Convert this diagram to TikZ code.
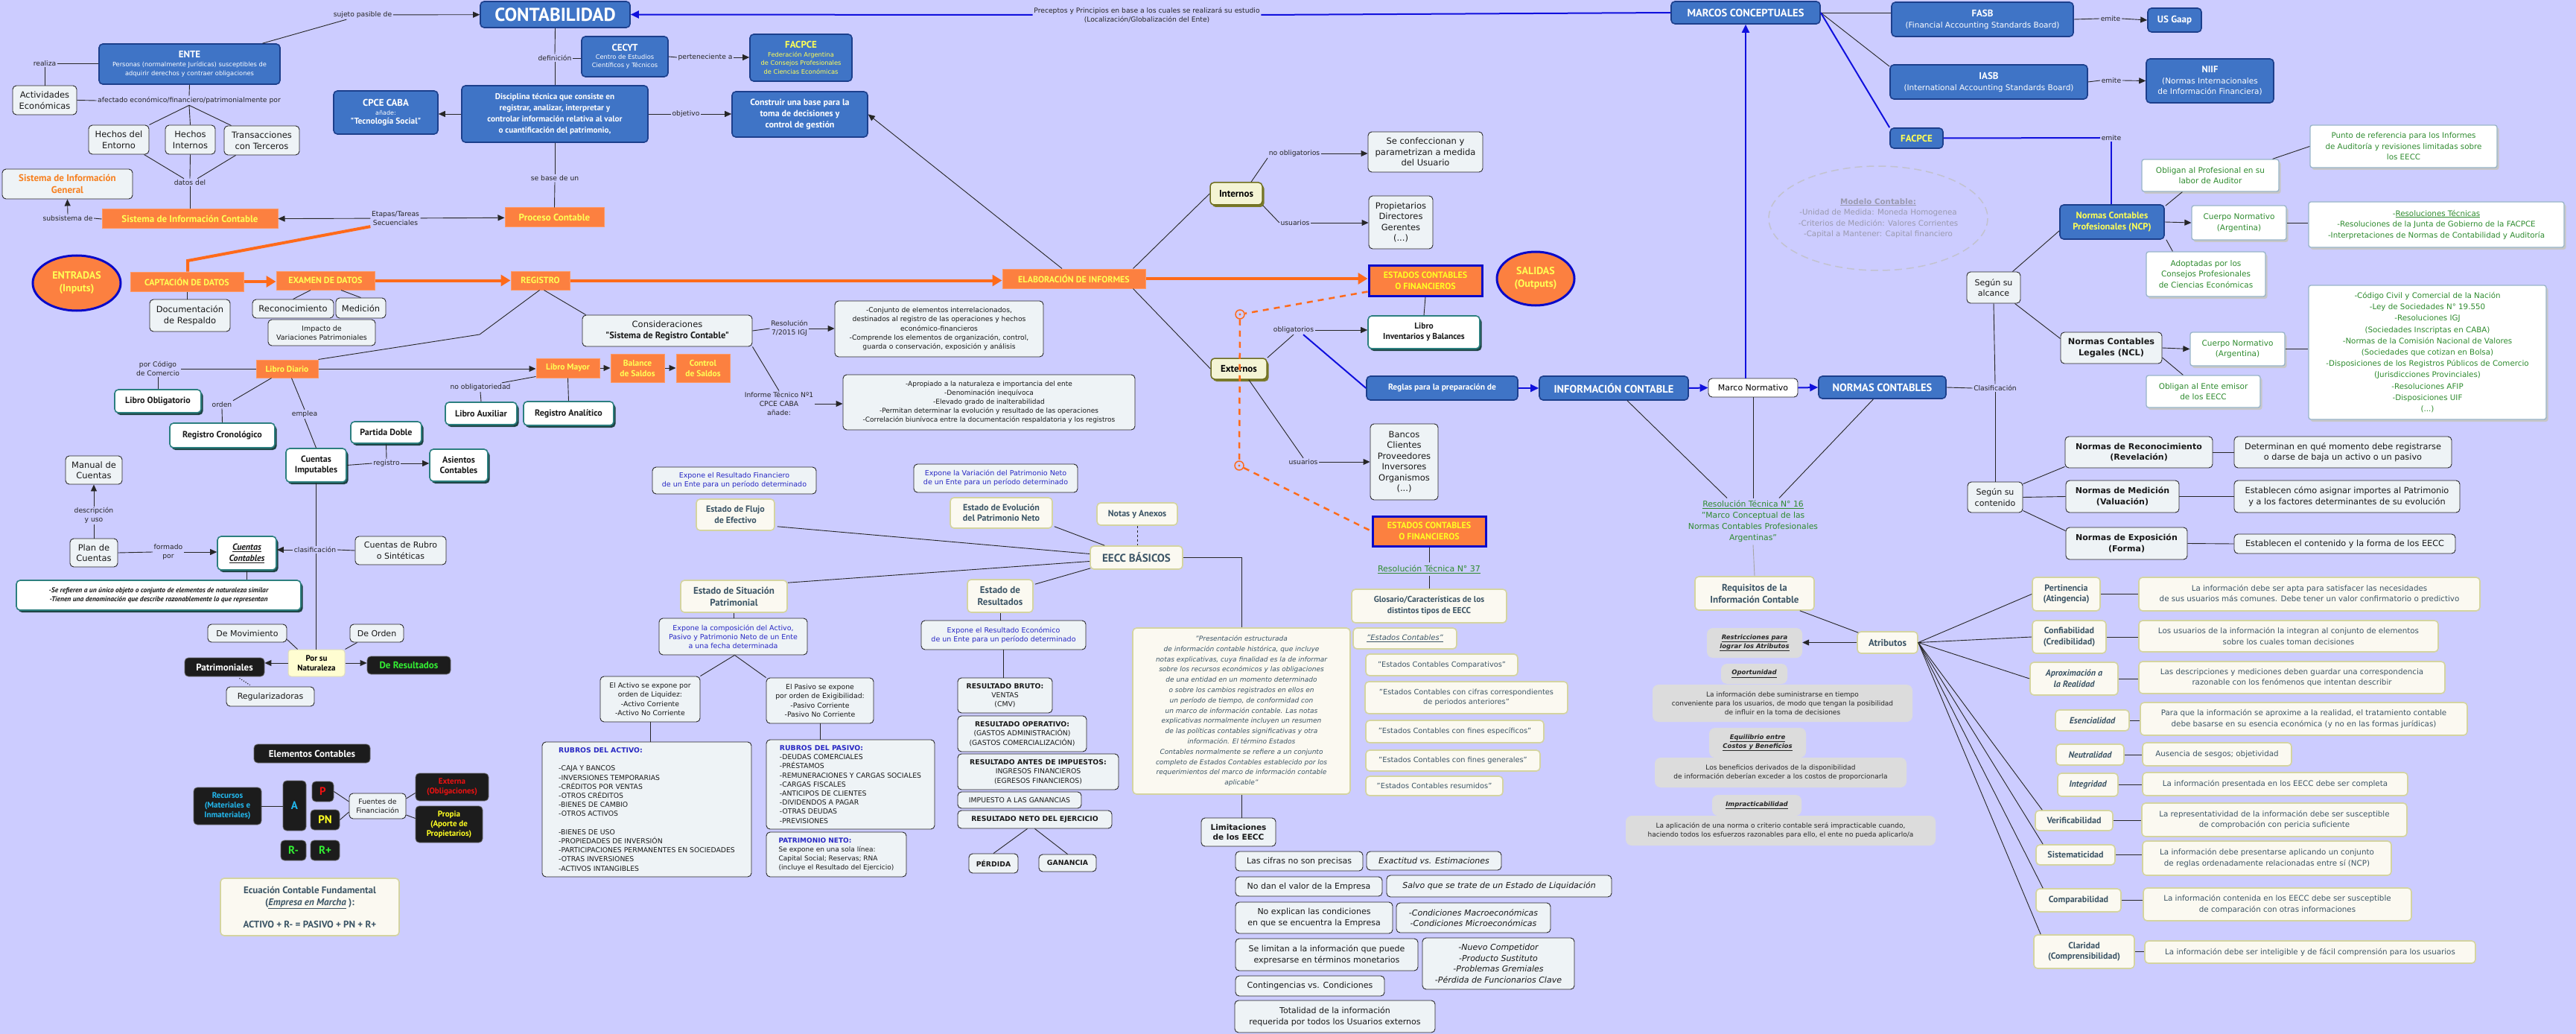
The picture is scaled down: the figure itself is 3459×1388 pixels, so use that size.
\documentclass[tikz,border=0pt]{standalone}
\usepackage{fontspec}
\setmainfont{DejaVu Sans}
\newfontfamily\ptf{PT Sans}
\usetikzlibrary{arrows.meta,calc,shadows,shapes.geometric}
\newcommand\pb{\ptf\bfseries}
\newcommand\fsz[2]{\fontsize{#1}{#2}\selectfont}
\definecolor{bgc}{HTML}{CCCCFF}
\definecolor{bfill}{HTML}{3F74C6}
\definecolor{bdraw}{HTML}{1C3F8C}
\definecolor{ofill}{HTML}{FC8040}
\definecolor{oline}{HTML}{FF6A1A}
\definecolor{yel}{HTML}{FFFF55}
\definecolor{yel2}{HTML}{FFFF22}
\definecolor{lfill}{HTML}{EEF3F6}
\definecolor{tealb}{HTML}{2C7F7F}
\definecolor{tealsh}{HTML}{1E4545}
\definecolor{cfill}{HTML}{FBF9F1}
\definecolor{cdraw}{HTML}{D4D4A0}
\definecolor{slate}{HTML}{3C5566}
\definecolor{grn}{HTML}{2E8B2E}
\definecolor{bluet}{HTML}{2727C4}
\definecolor{gfill}{HTML}{DCDCDC}
\definecolor{kfill}{HTML}{1C1C1C}
\definecolor{olfill}{HTML}{F4F4D4}
\definecolor{oldraw}{HTML}{6E6E1E}
\definecolor{olsh}{HTML}{7A7A2A}
\definecolor{bluel}{HTML}{1010DD}
\definecolor{greenlit}{HTML}{33EE33}
\definecolor{cyanl}{HTML}{22B8EE}
\definecolor{redl}{HTML}{EE1111}
\definecolor{orT}{HTML}{F7801F}
\definecolor{modg}{HTML}{9A9AAE}
\definecolor{ecblue}{HTML}{0A0AC8}
\definecolor{gnbd}{HTML}{98B4C8}
\tikzset{
 bb/.style n args={4}{at={({(#1+#3)/2},{(#2+#4)/2})}, minimum width={#3-#1}, minimum height={#4-#2}, inner sep=1pt, align=center},
 bluebox/.style={fill=bfill, draw=bdraw, line width=1.6pt, rounded corners=5pt, text=white, font=\pb\fsz{12}{14}},
 obox/.style={fill=ofill, draw=ofill!80!white, line width=1pt, text=yel, font=\pb\fsz{12}{14}},
 ecbox/.style={fill=ofill, draw=ecblue, line width=3pt, text=yel2, font=\pb\fsz{12}{15}},
 lbox/.style={fill=lfill, draw=black!85, line width=0.9pt, rounded corners=5pt, text=black!90, font=\fsz{11.5}{14.5}},
 wbox/.style={fill=white, draw=black!85, line width=0.9pt, rounded corners=5pt, font=\fsz{11}{14}},
 tbox/.style={fill=white, draw=tealb, line width=1.6pt, rounded corners=5pt, text=black!90, font=\pb\fsz{12}{14.5}, drop shadow={shadow xshift=2.5pt, shadow yshift=-3pt, fill=tealsh, opacity=1}},
 cbox/.style={fill=cfill, draw=cdraw, line width=1.6pt, rounded corners=5pt, text=slate, font=\pb\fsz{12}{14.5}},
 cdesc/.style={fill=cfill, draw=cdraw, line width=1.6pt, rounded corners=5pt, text=slate, font=\fsz{10.3}{14.5}},
 gnbox/.style={fill=white, draw=gnbd, line width=1.3pt, rounded corners=3pt, text=grn, font=\fsz{10.5}{14.5}, drop shadow={shadow xshift=2.5pt, shadow yshift=-3pt, fill=black!22, opacity=1}},
 gbox/.style={fill=gfill, rounded corners=8pt, text=black!85, font=\fsz{9}{12}},
 gbi/.style={gbox, font=\bfseries\itshape\fsz{8.5}{12}},
 kbox/.style={fill=kfill, draw=black!60, line width=0.8pt, rounded corners=5pt, font=\pb\fsz{13}{15}},
 olbox/.style={fill=olfill, draw=oldraw, line width=1.5pt, rounded corners=5pt, font=\pb\fsz{13}{15}, drop shadow={shadow xshift=2.5pt, shadow yshift=-3pt, fill=olsh, opacity=1}},
 ybox/.style={fill=yellow!18, draw=yellow!50!black!30, line width=1pt, rounded corners=4pt, font=\pb\fsz{11}{13}},
 btbox/.style={lbox, text=bluet, font=\fsz{9.5}{12.2}},
 lbl/.style={fill=bgc, inner sep=1.5pt, align=center, text=black!85, font=\fsz{9.2}{12}},
 conn/.style={draw=black!85, line width=0.9pt},
 arr/.style={-{Triangle[length=9pt,width=8pt]}},
 oarr/.style={draw=oline, line width=4pt, -{Triangle[length=13pt,width=15pt]}},
 oln/.style={draw=oline, line width=4pt},
 odash/.style={draw=oline, line width=2.5pt, dash pattern=on 8pt off 7pt},
 barr/.style={draw=bluel, line width=2pt, -{Triangle[length=11pt,width=10pt]}},
 bline/.style={draw=bluel, line width=2pt},
 ocirc/.style={circle, draw=oline, line width=1.5pt, minimum size=12pt, inner sep=0pt, fill=bgc},
 eln/.style={ellipse, fill=ofill, draw=ecblue, line width=3pt, inner sep=0pt, align=center, text=yel, font=\pb\fsz{14}{17}}
}
\begin{document}
\begin{tikzpicture}[x=1pt,y=-1pt]
\useasboundingbox (0,0) rectangle (3459,1388);
\fill[bgc] (0,0) rectangle (3459,1388);

% ===== top-left =====
\node[bluebox, bb={645}{2}{846}{37}, font=\pb\fsz{25}{28}] (contab) {CONTABILIDAD};
\node[bluebox, bb={133}{59}{376}{113}, font=\fsz{8.3}{12}] (ente) {{\pb\fsz{13}{15}ENTE}\\Personas (normalmente Jurídicas) susceptibles de\\adquirir derechos y contraer obligaciones};
\node[lbox, bb={17}{115}{103}{154}] (activ) {Actividades\\Económicas};
\node[lbl] (l_realiza) at (60,85) {realiza};
\node[lbl] (l_sujeto) at (487,20) {sujeto pasible de};
\node[lbl] (l_afect) at (254,135) {afectado económico/financiero/patrimonialmente por};
\node[lbox, bb={119}{168}{200}{207}] (hent) {Hechos del\\Entorno};
\node[lbox, bb={222}{168}{289}{207}] (hint) {Hechos\\Internos};
\node[lbox, bb={301}{169}{402}{208}] (htra) {Transacciones\\con Terceros};
\node[lbl] (l_datos) at (255,245) {datos del};
\node[lbox, bb={3}{227}{178}{267}, text=orT, font=\pb\fsz{13}{16}] (sig) {Sistema de Información\\General};
\node[obox, bb={137}{281}{373}{307}, font=\pb\fsz{13}{15}] (sic) {Sistema de Información Contable};
\node[lbl] (l_subs) at (91,293) {subsistema de};
\node[lbl] (l_etapas) at (531,293) {Etapas/Tareas\\Secuenciales};
\node[obox, bb={678}{279}{811}{305}, font=\pb\fsz{13}{15}] (proc) {Proceso Contable};
\node[lbl] (l_base) at (745,239) {se base de un};
\node[lbl] (l_def) at (745,78) {definición};
\node[bluebox, bb={781}{49}{897}{103}, font=\fsz{8.3}{11}] (cecyt) {{\pb\fsz{13}{15}CECYT}\\Centro de Estudios\\Científicos y Técnicos};
\node[bluebox, bb={620}{115}{870}{191}, font=\pb\fsz{11.2}{15}] (disc) {Disciplina técnica que consiste en\\registrar, analizar, interpretar y\\controlar información relativa al valor\\o cuantificación del patrimonio,};
\node[bluebox, bb={448}{122}{588}{180}, font=\fsz{8}{12}] (cpce) {{\pb\fsz{13}{15}CPCE CABA}\\añade:\\{\pb\fsz{11.5}{14}"Tecnología Social"}};
\node[bluebox, bb={1007}{46}{1144}{109}, text=yel, font=\fsz{8.3}{11.5}] (facpce1) {{\pb\fsz{13}{15}FACPCE}\\Federación Argentina\\de Consejos Profesionales\\de Ciencias Económicas};
\node[lbl] (l_pert) at (947,77) {perteneciente a};
\node[lbl] (l_obj) at (921,153) {objetivo};
\node[bluebox, bb={983}{123}{1165}{184}, font=\pb\fsz{12}{15}] (constr) {Construir una base para la\\toma de decisiones y\\control de gestión};
\node[lbl] (l_prec) at (1540,20) {Preceptos y Principios en base a los cuales se realizará su estudio\\(Localización/Globalización del Ente)};

% ===== top-right =====
\node[bluebox, bb={2244}{2}{2444}{32}, font=\pb\fsz{14.5}{16}] (marcos) {MARCOS CONCEPTUALES};
\node[bluebox, bb={2540}{3}{2784}{49}, font=\fsz{10.5}{15}] (fasb) {{\pb\fsz{13}{15}FASB}\\(Financial Accounting Standards Board)};
\node[lbl] (l_em1) at (2834,25) {emite};
\node[bluebox, bb={2884}{11}{2956}{43}, font=\pb\fsz{13}{15}] (usg) {US Gaap};
\node[bluebox, bb={2538}{87}{2803}{133}, font=\fsz{10.5}{15}] (iasb) {{\pb\fsz{13}{15}IASB}\\(International Accounting Standards Board)};
\node[lbl] (l_em2) at (2835,108) {emite};
\node[bluebox, bb={2882}{79}{3053}{138}, font=\fsz{10.5}{14.5}] (niif) {{\pb\fsz{12.5}{15}NIIF}\\(Normas Internacionales\\de Información Financiera)};
\node[bluebox, bb={2538}{172}{2609}{199}, text=yel, font=\pb\fsz{13}{15}] (facpce2) {FACPCE};
\node[lbl] (l_em3) at (2835,185) {emite};
\node[bluebox, bb={2766}{275}{2906}{321}, text=yel, font=\pb\fsz{12.5}{15}] (ncp) {Normas Contables\\Profesionales (NCP)};
\node[gnbox, bb={2876}{214}{3060}{257}] (oblig1) {Obligan al Profesional en su\\labor de Auditor};
\node[gnbox, bb={3102}{168}{3353}{225}, font=\fsz{10.3}{14.5}] (punto) {Punto de referencia para los Informes\\de Auditoría y revisiones limitadas sobre\\los EECC};
\node[gnbox, bb={2943}{276}{3070}{322}] (cuerpo1) {Cuerpo Normativo\\(Argentina)};
\node[gnbox, bb={3100}{271}{3443}{332}, font=\fsz{10.3}{14.5}] (rts) {-\underline{Resoluciones Técnicas}\\-Resoluciones de la Junta de Gobierno de la FACPCE\\-Interpretaciones de Normas de Contabilidad y Auditoría};
\node[gnbox, bb={2882}{338}{3042}{398}] (adopt) {Adoptadas por los\\Consejos Profesionales\\de Ciencias Económicas};
\node[lbox, bb={2641}{365}{2713}{407}, font=\fsz{11}{14.5}] (alc) {Según su\\alcance};
\node[lbox, bb={2767}{446}{2903}{488}, font=\bfseries\fsz{11.3}{14.5}] (ncl) {Normas Contables\\Legales (NCL)};
\node[gnbox, bb={2941}{446}{3068}{491}] (cuerpo2) {Cuerpo Normativo\\(Argentina)};
\node[gnbox, bb={3100}{383}{3419}{563}, font=\fsz{10.3}{15.2}] (legal) {-Código Civil y Comercial de la Nación\\-Ley de Sociedades N° 19.550\\-Resoluciones IGJ\\(Sociedades Inscriptas en CABA)\\-Normas de la Comisión Nacional de Valores\\(Sociedades que cotizan en Bolsa)\\-Disposiciones de los Registros Públicos de Comercio\\(Jurisdicciones Provinciales)\\-Resoluciones AFIP\\-Disposiciones UIF\\(...)};
\node[gnbox, bb={2882}{504}{3035}{547}] (oblig2) {Obligan al Ente emisor\\de los EECC};
\draw[draw=modg!60, dash pattern=on 10pt off 6pt, line width=1.5pt] (2522,293) ellipse [x radius=147, y radius=70];
\node[align=center, text=modg, font=\fsz{10.3}{14.5}] (modelo) at (2522,293) {{\bfseries\underline{Modelo Contable:}}\\-Unidad de Medida: Moneda Homogenea\\-Criterios de Medición: Valores Corrientes\\-Capital a Mantener: Capital financiero};
\node[lbl] (l_clas) at (2679,521) {Clasificación};
\node[lbox, bb={2773}{586}{2971}{628}, font=\bfseries\fsz{11}{14.5}] (nrec) {Normas de Reconocimiento\\(Revelación)};
\node[lbox, bb={3000}{586}{3292}{628}, font=\fsz{11.3}{14.5}] (det) {Determinan en qué momento debe registrarse\\o darse de baja un activo o un pasivo};
\node[lbox, bb={2642}{647}{2716}{688}, font=\fsz{11}{14.5}] (cont) {Según su\\contenido};
\node[lbox, bb={2774}{645}{2926}{688}, font=\bfseries\fsz{11}{14.5}] (nmed) {Normas de Medición\\(Valuación)};
\node[lbox, bb={3000}{645}{3303}{688}, font=\fsz{11.3}{14.5}] (est1) {Establecen cómo asignar importes al Patrimonio\\y a los factores determinantes de su evolución};
\node[lbox, bb={2774}{708}{2937}{751}, font=\bfseries\fsz{11}{14.5}] (nexp) {Normas de Exposición\\(Forma)};
\node[lbox, bb={3000}{717}{3297}{743}, font=\fsz{11.3}{14.5}] (est2) {Establecen el contenido y la forma de los EECC};

% ===== normas row =====
\node[bluebox, bb={1835}{505}{2038}{537}, font=\pb\fsz{11.5}{14}] (reglas) {Reglas para la preparación de};
\node[bluebox, bb={2067}{505}{2267}{537}, font=\pb\fsz{14.5}{16}] (infoc) {INFORMACIÓN CONTABLE};
\node[wbox, bb={2294}{508}{2414}{533}] (mnorm) {Marco Normativo};
\node[bluebox, bb={2442}{505}{2613}{535}, font=\pb\fsz{14.5}{16}] (ncont) {NORMAS CONTABLES};
\node[align=center, text=grn, font=\fsz{10.8}{15}] (rt16) at (2354,700) {\underline{Resolución Técnica N° 16}\\"Marco Conceptual de las\\Normas Contables Profesionales\\Argentinas"};
\node[cbox, bb={2276}{774}{2436}{819}, font=\pb\fsz{13}{16}] (req) {Requisitos de la\\Información Contable};
\node[cbox, bb={2494}{848}{2575}{877}, font=\pb\fsz{13}{15}] (atr) {Atributos};
\node[gbi, bb={2292}{843}{2420}{883}] (restr) {\underline{Restricciones para}\\\underline{lograr los Atributos}};
\node[gbi, bb={2311}{891}{2400}{918}] (oport) {\underline{Oportunidad}};
\node[gbox, bb={2219}{919}{2568}{969}] (oportd) {La información debe suministrarse en tiempo\\conveniente para los usuarios, de modo que tengan la posibilidad\\de influir en la toma de decisiones};
\node[gbi, bb={2295}{977}{2425}{1017}] (equil) {\underline{Equilibrio entre}\\\underline{Costos y Beneficios}};
\node[gbox, bb={2222}{1017}{2560}{1057}] (equild) {Los beneficios derivados de la disponibilidad\\de información deberían exceder a los costos de proporcionarla};
\node[gbi, bb={2299}{1067}{2419}{1095}] (impr) {\underline{Impracticabilidad}};
\node[gbox, bb={2183}{1095}{2599}{1135}] (imprd) {La aplicación de una norma o criterio contable será impracticable cuando,\\haciendo todos los esfuerzos razonables para ello, el ente no pueda aplicarlo/a};

% ===== atributos =====
\node[cbox, bb={2729}{775}{2820}{820}] (pert) {Pertinencia\\(Atingencia)};
\node[cdesc, bb={2872}{775}{3330}{820}] (dpert) {La información debe ser apta para satisfacer las necesidades\\de sus usuarios más comunes. Debe tener un valor confirmatorio o predictivo};
\node[cbox, bb={2729}{833}{2828}{877}] (conf) {Confiabilidad\\(Credibilidad)};
\node[cdesc, bb={2872}{833}{3274}{875}] (dconf) {Los usuarios de la información la integran al conjunto de elementos\\sobre los cuales toman decisiones};
\node[cbox, bb={2726}{889}{2844}{933}, font=\pb\itshape\fsz{12}{14.5}] (aprox) {Aproximación a\\la Realidad};
\node[cdesc, bb={2872}{888}{3283}{931}] (daprox) {Las descripciones y mediciones deben guardar una correspondencia\\razonable con los fenómenos que intentan describir};
\node[cbox, bb={2760}{953}{2859}{981}, font=\pb\itshape\fsz{12}{14.5}] (esenc) {Esencialidad};
\node[cdesc, bb={2874}{943}{3313}{987}] (desenc) {Para que la información se aproxime a la realidad, el tratamiento contable\\debe basarse en su esencia económica (y no en las formas jurídicas)};
\node[cbox, bb={2761}{999}{2852}{1027}, font=\pb\itshape\fsz{12}{14.5}] (neutr) {Neutralidad};
\node[cdesc, bb={2877}{997}{3077}{1028}] (dneutr) {Ausencia de sesgos; objetividad};
\node[cbox, bb={2763}{1038}{2844}{1069}, font=\pb\itshape\fsz{12}{14.5}] (integ) {Integridad};
\node[cdesc, bb={2877}{1037}{3233}{1068}] (dinteg) {La información presentada en los EECC debe ser completa};
\node[cbox, bb={2733}{1088}{2837}{1115}] (verif) {Verificabilidad};
\node[cdesc, bb={2876}{1078}{3232}{1123}] (dverif) {La representatividad de la información debe ser susceptible\\de comprobación con pericia suficiente};
\node[cbox, bb={2734}{1134}{2840}{1161}] (sistem) {Sistematicidad};
\node[cdesc, bb={2877}{1129}{3211}{1175}] (dsistem) {La información debe presentarse aplicando un conjunto\\de reglas ordenadamente relacionadas entre sí (NCP)};
\node[cbox, bb={2734}{1193}{2848}{1224}] (compar) {Comparabilidad};
\node[cdesc, bb={2878}{1192}{3238}{1236}] (dcompar) {La información contenida en los EECC debe ser susceptible\\de comparación con otras informaciones};
\node[cbox, bb={2731}{1255}{2866}{1300}] (clar) {Claridad\\(Comprensibilidad)};
\node[cdesc, bb={2880}{1263}{3324}{1293}] (dclar) {La información debe ser inteligible y de fácil comprensión para los usuarios};

% ===== informes =====
\node[olbox, bb={1625}{245}{1695}{275}] (intern) {Internos};
\node[olbox, bb={1626}{481}{1701}{509}] (extern) {Externos};
\node[lbl] (l_noobl) at (1738,206) {no obligatorios};
\node[lbl] (l_usu1) at (1739,299) {usuarios};
\node[lbox, bb={1837}{177}{1991}{231}] (confec) {Se confeccionan y\\parametrizan a medida\\del Usuario};
\node[lbox, bb={1838}{263}{1924}{334}] (propie) {Propietarios\\Directores\\Gerentes\\(...)};
\node[ecbox, bb={1838}{356}{1990}{397}] (estA) {ESTADOS CONTABLES\\O FINANCIEROS};
\node[eln, minimum width=104, minimum height=72] (salidas) at (2062,374) {SALIDAS\\(Outputs)};
\node[tbox, bb={1837}{424}{1987}{468}, font=\pb\fsz{11.5}{14}] (linv) {Libro\\Inventarios y Balances};
\node[lbl] (l_obl) at (1737,443) {obligatorios};
\node[lbl] (l_usu2) at (1750,620) {usuarios};
\node[lbox, bb={1840}{569}{1931}{671}] (bancos) {Bancos\\Clientes\\Proveedores\\Inversores\\Organismos\\(...)};
\node[ecbox, bb={1843}{693}{1995}{733}] (estB) {ESTADOS CONTABLES\\O FINANCIEROS};
\node[text=grn, font=\fsz{11}{13}] (rt37) at (1919,764) {\underline{Resolución Técnica N° 37}};
\node[cbox, bb={1815}{791}{2023}{836}, font=\pb\fsz{11.5}{15}] (glos) {Glosario/Características de los\\distintos tipos de EECC};
\node[cbox, bb={1817}{843}{1956}{871}, font=\itshape\fsz{10}{13}] (ec1) {\underline{"Estados Contables"}};
\node[cbox, bb={1834}{878}{2038}{907}, font=\fsz{9.8}{13}] (ec2) {"Estados Contables Comparativos"};
\node[cbox, bb={1833}{915}{2105}{958}, font=\fsz{9.8}{13}] (ec3) {"Estados Contables con cifras correspondientes\\de periodos anteriores"};
\node[cbox, bb={1834}{967}{2073}{997}, font=\fsz{9.8}{13}] (ec4) {"Estados Contables con fines específicos"};
\node[cbox, bb={1834}{1007}{2068}{1035}, font=\fsz{9.8}{13}] (ec5) {"Estados Contables con fines generales"};
\node[cbox, bb={1834}{1042}{2018}{1068}, font=\fsz{9.8}{13}] (ec6) {"Estados Contables resumidos"};

% ===== orange chain =====
\node[obox, bb={1346}{361}{1538}{387}] (elab) {ELABORACIÓN DE INFORMES};
\node[obox, bb={686}{364}{765}{389}] (regis) {REGISTRO};
\node[obox, bb={175}{365}{327}{391}] (capt) {CAPTACIÓN DE DATOS};
\node[obox, bb={371}{364}{503}{389}] (exam) {EXAMEN DE DATOS};
\node[eln, minimum width=118, minimum height=74] (entr) at (103,380) {ENTRADAS\\(Inputs)};
\node[lbox, bb={201}{402}{309}{445}] (docr) {Documentación\\de Respaldo};
\node[lbox, bb={339}{402}{448}{427}] (recon) {Reconocimiento};
\node[lbox, bb={451}{400}{518}{427}] (medic) {Medición};
\node[lbox, bb={360}{429}{504}{464}, font=\fsz{9.5}{12}] (impac) {Impacto de\\Variaciones Patrimoniales};
\node[lbox, bb={782}{423}{1010}{465}, font=\fsz{11.5}{15}] (consid) {Consideraciones\\{\pb\fsz{12.5}{15}"Sistema de Registro Contable"}};
\node[lbl] (l_res7) at (1060,441) {Resolución\\7/2015 IGJ};
\node[lbox, bb={1121}{404}{1401}{479}, font=\fsz{9.2}{12.2}] (conj) {-Conjunto de elementos interrelacionados,\\destinados al registro de las operaciones y hechos\\económico-financieros\\-Comprende los elementos de organización, control,\\guarda o conservación, exposición y análisis};

% ===== libros =====
\node[obox, bb={344}{483}{427}{507}, font=\pb\fsz{11.5}{14}] (ldiario) {Libro Diario};
\node[obox, bb={720}{481}{805}{507}, font=\pb\fsz{11.5}{14}] (lmayor) {Libro Mayor};
\node[obox, bb={820}{475}{892}{513}, font=\pb\fsz{11.5}{14}] (balance) {Balance\\de Saldos};
\node[obox, bb={908}{475}{980}{513}, font=\pb\fsz{11.5}{14}] (control) {Control\\de Saldos};
\node[lbl] (l_cod) at (212,495) {por Código\\de Comercio};
\node[tbox, bb={154}{523}{270}{554}] (lobl) {Libro Obligatorio};
\node[lbl] (l_orden) at (298,543) {orden};
\node[tbox, bb={228}{568}{369}{601}] (rcron) {Registro Cronológico};
\node[lbl] (l_empl) at (409,556) {emplea};
\node[tbox, bb={384}{602}{465}{647}] (cimp) {Cuentas\\Imputables};
\node[tbox, bb={471}{566}{566}{595}] (pdoble) {Partida Doble};
\node[lbl] (l_reg) at (519,622) {registro};
\node[tbox, bb={577}{603}{655}{646}] (asien) {Asientos\\Contables};
\node[lbl] (l_noobl2) at (645,520) {no obligatoriedad};
\node[tbox, bb={598}{540}{694}{570}] (laux) {Libro Auxiliar};
\node[tbox, bb={703}{539}{824}{571}] (ranal) {Registro Analítico};
\node[lbl] (l_inf) at (1046,542) {Informe Técnico Nº1\\CPCE CABA\\añade:};
\node[lbox, bb={1132}{503}{1524}{577}, font=\fsz{9}{12.2}] (aprop) {-Apropiado a la naturaleza e importancia del ente\\-Denominación inequívoca\\-Elevado grado de inalterabilidad\\-Permitan determinar la evolución y resultado de las operaciones\\-Correlación biunívoca entre la documentación respaldatoria y los registros};
\node[lbox, bb={88}{612}{164}{650}] (manual) {Manual de\\Cuentas};
\node[lbl] (l_desc) at (126,692) {descripción\\y uso};
\node[lbox, bb={94}{723}{158}{761}] (plan) {Plan de\\Cuentas};
\node[lbl] (l_form) at (226,741) {formado\\por};
\node[tbox, bb={292}{720}{371}{765}, font=\pb\itshape\fsz{12}{15}] (ccont) {\underline{Cuentas}\\\underline{Contables}};
\node[lbl] (l_clas2) at (423,738) {clasificación};
\node[lbox, bb={477}{720}{599}{758}, font=\fsz{11}{14.5}] (rubro) {Cuentas de Rubro\\o Sintéticas};
\node[tbox, bb={22}{779}{404}{819}, font=\pb\itshape\fsz{9.5}{12}] (note) {-Se refieren a un único objeto o conjunto de elementos de naturaleza similar\\-Tienen una denominación que describe razonablemente lo que representan};
\node[lbox, bb={279}{838}{385}{862}, font=\fsz{11}{14}] (demov) {De Movimiento};
\node[lbox, bb={470}{838}{542}{862}, font=\fsz{11}{14}] (deord) {De Orden};
\node[ybox, bb={387}{872}{463}{908}] (porsu) {Por su\\Naturaleza};
\node[kbox, bb={248}{883}{355}{908}, text=white] (patr) {Patrimoniales};
\node[kbox, bb={493}{881}{605}{905}, text=greenlit] (dres) {De Resultados};
\node[lbox, bb={304}{922}{422}{948}, font=\fsz{11}{14}] (regul) {Regularizadoras};

% ===== elementos =====
\node[kbox, bb={341}{999}{497}{1024}, text=white] (elem) {Elementos Contables};
\node[kbox, bb={260}{1057}{351}{1107}, text=cyanl, font=\pb\fsz{11}{13}] (recur) {Recursos\\(Materiales e\\Inmateriales)};
\node[kbox, bb={380}{1048}{411}{1115}, text=cyanl, font=\pb\fsz{15}{17}] (nA) {A};
\node[kbox, bb={419}{1049}{448}{1076}, text=redl, font=\pb\fsz{15}{17}] (nP) {P};
\node[kbox, bb={417}{1087}{456}{1114}, text=yel2, font=\pb\fsz{15}{17}] (nPN) {PN};
\node[kbox, bb={377}{1128}{411}{1155}, text=greenlit, font=\pb\fsz{15}{17}] (nRm) {R-};
\node[kbox, bb={417}{1128}{456}{1155}, text=greenlit, font=\pb\fsz{15}{17}] (nRp) {R+};
\node[lbox, bb={469}{1065}{545}{1099}, font=\fsz{9.3}{12}] (fuen) {Fuentes de\\Financiación};
\node[kbox, bb={558}{1038}{656}{1075}, text=redl, font=\pb\fsz{11}{13}] (extna) {Externa\\(Obligaciones)};
\node[kbox, bb={558}{1082}{648}{1131}, text=yel2, font=\pb\fsz{11}{13}] (propia) {Propia\\(Aporte de\\Propietarios)};
\node[cbox, bb={296}{1179}{536}{1256}, font=\pb\fsz{13}{16}] (ecua) {Ecuación Contable Fundamental\\(\underline{\itshape Empresa en Marcha} ):\\[14pt]ACTIVO + R- = PASIVO + PN + R+};

% ===== EECC =====
\node[btbox, bb={876}{627}{1096}{663}] (expf) {Expone el Resultado Financiero\\de un Ente para un período determinado};
\node[cbox, bb={935}{670}{1040}{712}] (flujo) {Estado de Flujo\\de Efectivo};
\node[btbox, bb={1227}{623}{1447}{661}] (expv) {Expone la Variación del Patrimonio Neto\\de un Ente para un período determinado};
\node[cbox, bb={1276}{668}{1413}{709}] (evol) {Estado de Evolución\\del Patrimonio Neto};
\node[cbox, bb={1473}{675}{1581}{705}] (notas) {Notas y Anexos};
\node[cbox, bb={1464}{733}{1588}{764}, font=\pb\fsz{15}{17}] (eecc) {EECC BÁSICOS};
\node[cbox, bb={914}{779}{1057}{822}, font=\pb\fsz{13}{16}] (sitp) {Estado de Situación\\Patrimonial};
\node[cbox, bb={1299}{778}{1387}{822}, font=\pb\fsz{13}{16}] (estr) {Estado de\\Resultados};
\node[btbox, bb={885}{830}{1084}{879}] (expc) {Expone la composición del Activo,\\Pasivo y Patrimonio Neto de un Ente\\a una fecha determinada};
\node[btbox, bb={1237}{833}{1458}{872}] (expe) {Expone el Resultado Económico\\de un Ente para un período determinado};
\node[lbox, bb={806}{908}{940}{969}, font=\fsz{9.3}{12.2}] (actv) {El Activo se expone por\\orden de Liquidez:\\-Activo Corriente\\-Activo No Corriente};
\node[lbox, bb={1029}{910}{1173}{971}, font=\fsz{9.3}{12.2}] (pasv) {El Pasivo se expone\\por orden de Exigibilidad:\\-Pasivo Corriente\\-Pasivo No Corriente};
\node[lbox, bb={728}{996}{1009}{1177}, align=left, font=\fsz{9.3}{12.2}] (ruba) {{\color{bluet}\bfseries RUBROS DEL ACTIVO:}\\[12.2pt]-CAJA Y BANCOS\\-INVERSIONES TEMPORARIAS\\-CRÉDITOS POR VENTAS\\-OTROS CRÉDITOS\\-BIENES DE CAMBIO\\-OTROS ACTIVOS\\[12.2pt]-BIENES DE USO\\-PROPIEDADES DE INVERSIÓN\\-PARTICIPACIONES PERMANENTES EN SOCIEDADES\\-OTRAS INVERSIONES\\-ACTIVOS INTANGIBLES};
\node[lbox, bb={1029}{993}{1255}{1113}, align=left, font=\fsz{9.3}{12.2}] (rubp) {{\color{bluet}\bfseries RUBROS DEL PASIVO:}\\-DEUDAS COMERCIALES\\-PRÉSTAMOS\\-REMUNERACIONES Y CARGAS SOCIALES\\-CARGAS FISCALES\\-ANTICIPOS DE CLIENTES\\-DIVIDENDOS A PAGAR\\-OTRAS DEUDAS\\-PREVISIONES};
\node[lbox, bb={1029}{1117}{1217}{1177}, align=left, font=\fsz{9}{12.2}] (patn) {{\color{bluet}\bfseries PATRIMONIO NETO:}\\Se expone en una sola línea:\\Capital Social; Reservas; RNA\\(incluye el Resultado del Ejercicio)};
\node[lbox, bb={1286}{910}{1413}{957}, font=\fsz{9.3}{12.2}] (rbru) {{\bfseries RESULTADO BRUTO:}\\VENTAS\\(CMV)};
\node[lbox, bb={1286}{961}{1459}{1009}, font=\fsz{9.3}{12.2}] (rope) {{\bfseries RESULTADO OPERATIVO:}\\(GASTOS ADMINISTRACIÓN)\\(GASTOS COMERCIALIZACIÓN)};
\node[lbox, bb={1286}{1012}{1502}{1060}, font=\fsz{9.3}{12.2}] (rant) {{\bfseries RESULTADO ANTES DE IMPUESTOS:}\\INGRESOS FINANCIEROS\\(EGRESOS FINANCIEROS)};
\node[lbox, bb={1286}{1063}{1452}{1085}, font=\fsz{9.3}{12.2}] (impg) {IMPUESTO A LAS GANANCIAS};
\node[lbox, bb={1286}{1088}{1493}{1112}, font=\bfseries\fsz{9.3}{12.2}] (rnet) {RESULTADO NETO DEL EJERCICIO};
\node[lbox, bb={1301}{1146}{1367}{1172}, font=\bfseries\fsz{9.3}{12.2}] (perd) {PÉRDIDA};
\node[lbox, bb={1395}{1147}{1472}{1170}, font=\bfseries\fsz{9.3}{12.2}] (gan) {GANANCIA};
\node[cdesc, bb={1521}{843}{1813}{1066}, font=\itshape\fsz{9}{13.8}] (quote) {"Presentación estructurada\\de información contable histórica, que incluye\\notas explicativas, cuya finalidad es la de informar\\sobre los recursos económicos y las obligaciones\\de una entidad en un momento determinado\\o sobre los cambios registrados en ellos en\\un período de tiempo, de conformidad con\\un marco de información contable. Las notas\\explicativas normalmente incluyen un resumen\\de las políticas contables significativas y otra\\información. El término Estados\\Contables normalmente se refiere a un conjunto\\completo de Estados Contables establecido por los\\requerimientos del marco de información contable\\aplicable"};
\node[lbox, bb={1613}{1098}{1713}{1136}, font=\bfseries\fsz{10.5}{13.5}] (limi) {Limitaciones\\de los EECC};
\node[lbox, bb={1659}{1143}{1830}{1169}, font=\fsz{11}{14.5}] (lim1) {Las cifras no son precisas};
\node[lbox, bb={1835}{1143}{2016}{1168}, font=\itshape\fsz{11}{14.5}] (lim1b) {Exactitud vs. Estimaciones};
\node[lbox, bb={1659}{1177}{1856}{1203}, font=\fsz{11}{14.5}] (lim2) {No dan el valor de la Empresa};
\node[lbox, bb={1862}{1175}{2164}{1204}, font=\itshape\fsz{11}{14.5}] (lim2b) {Salvo que se trate de un Estado de Liquidación};
\node[lbox, bb={1659}{1211}{1870}{1253}, font=\fsz{11}{14.5}] (lim3) {No explican las condiciones\\en que se encuentra la Empresa};
\node[lbox, bb={1875}{1212}{2082}{1252}, font=\itshape\fsz{11}{14.5}] (lim3b) {-Condiciones Macroeconómicas\\-Condiciones Microeconómicas};
\node[lbox, bb={1659}{1260}{1904}{1303}, font=\fsz{11}{14.5}] (lim4) {Se limitan a la información que puede\\expresarse en términos monetarios};
\node[lbox, bb={1910}{1259}{2114}{1328}, font=\itshape\fsz{11}{14.5}] (lim4b) {-Nuevo Competidor\\-Producto Sustituto\\-Problemas Gremiales\\-Pérdida de Funcionarios Clave};
\node[lbox, bb={1659}{1310}{1859}{1337}, font=\fsz{11}{14.5}] (lim5) {Contingencias vs. Condiciones};
\node[lbox, bb={1658}{1343}{1927}{1386}, font=\fsz{11}{14.5}] (lim6) {Totalidad de la información\\requerida por todos los Usuarios externos};

\node[ocirc] (oc1) at (1665,422) {};
\node[ocirc] (oc2) at (1664,625) {};
\fill[oline] (oc1) circle (1.6pt);
\fill[oline] (oc2) circle (1.6pt);
\coordinate (obend) at (252,350);
\coordinate (rbend) at (644,449);

% ===== connectors =====
\begin{scope}[conn]
\draw (ente) -- (l_sujeto);
\draw[arr] (l_sujeto) -- (contab);
\draw (l_realiza.east) -- (l_realiza.east -| ente.west);
\draw (l_realiza) -- (activ);
\draw (activ.east) -- (l_afect.west);
\draw (ente.south) -- (l_afect.north);
\draw (l_afect.south) -- (hent.north east);
\draw (l_afect.south) -- (hint.north);
\draw (l_afect.south) -- ($(htra.north west)+(10,0)$);
\draw ($(hent.south east)+(-7,0)$) -- ($(l_datos.north)+(-8,0)$);
\draw (hint.south) -- (l_datos.north);
\draw ($(htra.south west)+(16,0)$) -- ($(l_datos.north)+(10,0)$);
\draw (l_datos.south) -- (sic.north);
\draw[arr] (l_subs.north) -- (sig.south);
\draw (l_subs.east) -- (sic.west);
\draw[arr] (l_etapas) -- (sic);
\draw[arr] (l_etapas) -- (proc);
\draw (disc.south) -- (l_base.north);
\draw (l_base.south) -- (proc.north);
\draw (contab.south) -- (l_def.north);
\draw (l_def.south) -- (disc.north);
\draw (l_def.east) -- (cecyt.west |- l_def.east);
\draw[arr] (disc.west) -- (cpce.east |- disc.west);
\draw (cecyt.east) -- (l_pert.west);
\draw[arr] (l_pert.east) -- (facpce1.west |- l_pert.east);
\draw (disc.east) -- (l_obj.west);
\draw[arr] (l_obj.east) -- (constr.west |- l_obj.east);
\draw[arr] ($(elab.north)+(-16,0)$) -- (constr.east);
% marcos
\draw (marcos.east) -- (marcos.east -| fasb.west);
\draw (marcos.east) -- ($(iasb.north west)+(0,3)$);
\draw (fasb.east) -- (l_em1.west);
\draw[arr] (l_em1.east) -- (usg.west);
\draw (iasb.east) -- (l_em2.west);
\draw[arr] (l_em2.east) -- (niif.west);
\draw ($(ncp.north east)+(1,2)$) -- ($(oblig1.south west)+(55,0)$);
\draw ($(oblig1.north east)+(-9,0)$) -- (punto.west);
\draw[arr] (ncp.east) -- (cuerpo1.west);
\draw (cuerpo1.east) -- (cuerpo1.east -| rts.west);
\draw ($(ncp.south east)+(2,0)$) -- ($(adopt.north west)+(36,0)$);
\draw ($(alc.north east)+(-11,0)$) -- ($(ncp.south west)+(0,-12)$);
\draw ($(alc.south east)+(-8,0)$) -- ($(ncl.north west)+(0,9)$);
\draw[arr] (ncl.east) -- (cuerpo2.west);
\draw (cuerpo2.east) -- (cuerpo2.east -| legal.west);
\draw ($(ncl.east)+(0,13)$) -- ($(oblig2.north west)+(50,0)$);
\draw (alc.south) -- (l_clas.north);
\draw (l_clas.south) -- (cont.north);
\draw (ncont.east) -- (l_clas.west);
\draw ($(cont.north east)+(0,3)$) -- ($(nrec.south west)+(0,-2)$);
\draw (cont.east) -- (nmed.west);
\draw ($(cont.south east)+(0,-3)$) -- ($(nexp.north west)+(0,5)$);
\draw (nrec.east) -- (det.west);
\draw (nmed.east) -- (est1.west);
\draw (nexp.east) -- (est2.west);
\draw ($(infoc.south)+(18,0)$) -- ($(rt16.north)+(-35,0)$);
\draw (mnorm.south) -- (rt16.north);
\draw ($(ncont.south)+(-12,0)$) -- ($(rt16.north)+(35,0)$);
\draw[draw=black!35] (rt16.south) -- (req.north);
\draw ($(req.south east)+(-20,0)$) -- ($(atr.north west)+(2,2)$);
\draw[arr] (atr.west) -- (restr.east |- atr.west);
\foreach \n in {pert,conf,aprox} \draw (atr.east) -- (\n.west);
\foreach \n in {verif,sistem,compar,clar} \draw (atr.east) -- ($(\n.north west)+(10,0)$);
\foreach \n in {pert,conf,aprox,esenc,neutr,integ,verif,sistem,compar,clar} \draw (\n.east) -- (\n.east -| d\n.west);
% informes
\draw ($(elab.north east)+(-17,0)$) -- (intern.west);
\draw ($(elab.south east)+(-17,0)$) -- (extern.west);
\draw ($(intern.north)+(20,0)$) -- (l_noobl.south west);
\draw[arr] (l_noobl.east) -- (confec.west |- l_noobl.east);
\draw (intern.south east) -- (l_usu1.west);
\draw[arr] (l_usu1.east) -- (propie.west |- l_usu1.east);
\draw (extern.north east) -- (l_obl.south);
\draw[arr] (l_obl.east) -- (linv.west |- l_obl.east);
\draw ($(extern.south east)+(-25,0)$) -- (l_usu2.north);
\draw[arr] (l_usu2.east) -- (bancos.west |- l_usu2.east);
\draw (estA.south) -- (linv.north);
\draw (estB.south) -- (rt37.north);
\draw (rt37.south) -- (glos.north);
% registro
\draw (capt.south) -- (docr.north -| capt.south);
\draw ($(exam.south)+(-20,0)$) -- (recon.north);
\draw ($(exam.south)+(21,0)$) -- (medic.north);
\draw ($(regis.south)+(-1,0)$) -- (rbend) -- (ldiario.north east);
\draw ($(regis.south)+(5,0)$) -- ($(consid.north west)+(5,0)$);
\draw (consid.east) -- (l_res7.west);
\draw[arr] (l_res7.east) -- (conj.west |- l_res7.east);
\draw (consid.south east) -- (l_inf.north);
\draw[arr] (l_inf.east) -- (aprop.west |- l_inf.east);
% libros
\draw (ldiario.west) -- (l_cod.east);
\draw (l_cod.south) -- (lobl.north);
\draw[arr] (ldiario.east) -- (lmayor.west |- ldiario.east);
\draw[arr] (lmayor.east) -- (balance.west |- lmayor.east);
\draw[arr] (balance.east) -- (control.west);
\draw ($(ldiario.south west)+(21,0)$) -- (l_orden.north east);
\draw (l_orden.south) -- (rcron.north);
\draw ($(ldiario.south)+(6,0)$) -- (l_empl.north);
\draw (l_empl.south) -- (cimp.north);
\draw (cimp.east) -- (l_reg.west);
\draw[arr] (l_reg.east) -- (asien.west |- l_reg.east);
\draw (pdoble.south) -- (l_reg.north);
\draw ($(lmayor.south west)+(0,-2)$) -- ($(l_noobl2.north)+(29,0)$);
\draw (l_noobl2.south) -- (laux.north);
\draw (lmayor.south) -- (ranal.north);
% cuentas
\draw[arr] (l_desc.north) -- (manual.south);
\draw (plan.north) -- (l_desc.south);
\draw (plan.east) -- (l_form.west);
\draw[arr] (l_form.east) -- (ccont.west |- l_form.east);
\draw (rubro.west) -- (l_clas2.east);
\draw[arr] (l_clas2.west) -- (ccont.east |- l_clas2.west);
\draw (cimp.south) -- (l_clas2.north -| cimp.south);
\draw (l_clas2.south -| cimp.south) -- (porsu.north -| cimp.south);
\draw (ccont.south) -- (ccont.south |- note.north);
\draw ($(demov.south east)+(0,-4)$) -- ($(porsu.north west)+(13,0)$);
\draw ($(deord.south west)+(10,0)$) -- (porsu.north east);
\draw[arr] (porsu.west) -- (patr.east |- porsu.west);
\draw[arr] (porsu.east) -- (dres.west |- porsu.east);
\draw[dotted, line width=1.2pt] ($(patr.south)+(20,2)$) -- ($(regul.north west)+(32,-2)$);
% elementos
\draw (recur.east) -- (nA.west |- recur.east);
\draw (nP.east) -- ($(fuen.west)+(0,-6)$);
\draw (nPN.east) -- ($(fuen.west)+(0,8)$);
\draw ($(fuen.east)+(0,-10)$) -- ($(extna.west)+(0,8)$);
\draw ($(fuen.east)+(0,12)$) -- ($(propia.west)+(0,-8)$);
% EECC
\draw ($(flujo.south east)+(3,-6)$) -- ($(eecc.west)+(0,-5)$);
\draw ($(evol.south east)+(2,-3)$) -- ($(eecc.north west)+(20,0)$);
\draw[dashed] (notas.south) -- (notas.south |- eecc.north);
\draw ($(sitp.north east)+(0,4)$) -- ($(eecc.west)+(0,5)$);
\draw ($(estr.north east)+(2,7)$) -- ($(eecc.south west)+(1,-2)$);
\draw (eecc.east) -| (quote.north);
\draw (quote.south) -- (limi.north -| quote.south);
\draw (sitp.south) -- (expc.north -| sitp.south);
\draw (estr.south) -- (expe.north -| estr.south);
\draw (expe.south) -- (rbru.north -| expe.south);
\draw ($(expc.south)+(2,0)$) -- (actv.north east);
\draw ($(expc.south)+(2,0)$) -- (pasv.north west);
\draw (actv.south) -- (ruba.north -| actv.south);
\draw (pasv.south) -- (pasv.south |- rubp.north);
\draw ($(rnet.south)+(-10,0)$) -- (perd.north);
\draw ($(rnet.south)+(0,0)$) -- (gan.north);
\end{scope}

% blue & orange
\draw[bline] (marcos.west) -- (l_prec.east);
\draw[barr] (l_prec.west) -- (contab.east);
\draw[bline] (marcos.east) -- (facpce2.north west);
\draw[bline] (facpce2.east) -- (l_em3.west);
\draw[bline] (l_em3.south) -- (ncp.north -| l_em3.south);
\draw[barr] (marcos.south |- mnorm.north) -- (marcos.south);
\draw[bline] ($(l_obl.south)+(13,0)$) -- (reglas.west);
\draw[barr] (reglas.east) -- (infoc.west);
\draw[barr] (infoc.east) -- (mnorm.west);
\draw[barr] (mnorm.east) -- (ncont.west);
\draw[oln] (l_etapas.south west) -- (obend) -- (obend |- capt.north);
\draw[oarr] (capt.east) -- (exam.west |- capt.east);
\draw[oarr] (exam.east) -- (regis.west);
\draw[oarr] (regis.east) -- (elab.west |- regis.east);
\draw[oarr] (elab.east) -- (estA.west |- elab.east);
\draw[odash] ($(estA.south west)+(0,-7)$) -- (oc1);
\draw[odash] (oc1) -- (oc2);
\draw[odash] (oc2) -- (estB.west);
\end{tikzpicture}
\end{document}
